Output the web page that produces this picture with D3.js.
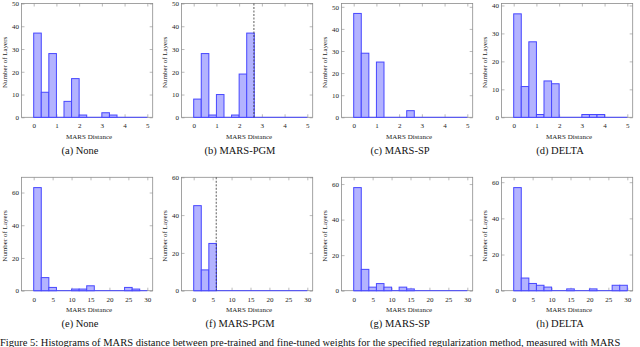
<!DOCTYPE html>
<html>
<head>
<meta charset="utf-8">
<script src="https://cdn.jsdelivr.net/npm/d3@7"></script>
<style>
  body { margin: 0; background: #fff; }
  svg { display: block; font-family: "Liberation Serif", "Times New Roman", Times, "DejaVu Serif", serif; }
</style>
</head>
<body>
<div id="chart"></div>
<script>
// Setting up constant variables
const F_WIDTH = 640;
const F_HEIGHT = 347;

// bin start positions (MARS distance)
const binsTop = [0, 1/3, 2/3, 1, 4/3, 5/3, 2, 7/3, 8/3, 3, 10/3, 11/3, 4, 13/3, 14/3];
const binsBottom = [0, 2, 4, 6, 8, 10, 12, 14, 16, 18, 20, 22, 24, 26, 28];
const binWidthTop = 1/3;
const binWidthBottom = 2;

// counts per bin (number of layers)
const aNone  = [37, 11, 28, 0, 7, 17, 1, 0, 0, 2, 1, 0, 0, 0, 0];
const bPGM   = [8, 28, 1, 10, 0, 1, 19, 37, 0, 0, 0, 0, 0, 0, 0];
const cSP    = [47, 29, 0, 25, 0, 0, 0, 3, 0, 0, 0, 0, 0, 0, 0];
const dDelta = [37, 11, 27, 1, 13, 12, 0, 0, 0, 1, 1, 1, 0, 0, 0];
const eNone  = [63, 8, 2, 0, 0, 1, 1, 3, 0, 0, 0, 0, 2, 1, 0];
const fPGM   = [45, 11, 25, 0, 0, 0, 0, 0, 0, 0, 0, 0, 0, 0, 0];
const gSP    = [58, 12, 2, 4, 2, 0, 2, 1, 0, 0, 0, 0, 0, 0, 0];
const hDelta = [57, 7, 4, 3, 2, 0, 0, 1, 0, 0, 1, 0, 0, 3, 3];

const titles = ["(a) None", "(b) MARS-PGM", "(c) MARS-SP", "(d) DELTA",
                "(e) None", "(f) MARS-PGM", "(g) MARS-SP", "(h) DELTA"];
const yMaxes = [50, 50, 51.5, 40.7, 69.3, 60, 63.8, 62.7];
const yTicksTop = [0, 10, 20, 30, 40, 50];
const yTicksBottom = [0, 20, 40, 60];
const xTicksTop = [0, 1, 2, 3, 4, 5];
const xTicksBottom = [0, 5, 10, 15, 20, 25, 30];
// dashed threshold line (PGM panels only)
const thresholds = [null, 2.65, null, null, null, 5.95, null, null];

const caption = "Figure 5: Histograms of MARS distance between pre-trained and fine-tuned weights for the specified regularization method, measured with MARS";

const counts = [aNone, bPGM, cSP, dDelta, eNone, fPGM, gSP, hDelta];

// frame geometry inside each 160px cell
const CELL_W = 160;
const ROW_TOP = [3.5, 177.3];
const ROW_BOT = [117.3, 290.7];
const X0 = 33.7, X1 = 147.3;        // pixel of x=0 and x=max
const FRAME_L = 21.5, FRAME_R = 152.7;

const BAR_FILL = "#b3b3ff";
const BAR_STROKE = "#4747ff";
const AXIS_COLOR = "#8c8c8c";
const SERIF = "'Liberation Serif', 'Times New Roman', Times, serif";

const svg = d3.select("#chart")
  .append("svg")
    .attr("width", F_WIDTH)
    .attr("height", F_HEIGHT);

counts.forEach((vals, i) => {
  const row = i < 4 ? 0 : 1;
  const col = i % 4;
  const ox = col * CELL_W;
  const top = ROW_TOP[row], bot = ROW_BOT[row];
  const bins = row === 0 ? binsTop : binsBottom;
  const bw = row === 0 ? binWidthTop : binWidthBottom;
  const xMax = row === 0 ? 5 : 30;
  const xTicks = row === 0 ? xTicksTop : xTicksBottom;
  let yTicks = row === 0 ? yTicksTop : yTicksBottom;
  yTicks = yTicks.filter(t => t <= yMaxes[i] + 0.01);

  const unit = (X1 - X0) / xMax;
  const X_SCALE = d3.scaleLinear()
    .domain([-(X0 - FRAME_L) / unit, xMax + (FRAME_R - X1) / unit])
    .range([ox + FRAME_L, ox + FRAME_R]);
  const Y_SCALE = d3.scaleLinear()
    .domain([0, yMaxes[i]])
    .range([bot, top]);

  const g = svg.append("g");

  // frame
  g.append("rect")
    .attr("x", X_SCALE.range()[0])
    .attr("y", top)
    .attr("width", X_SCALE.range()[1] - X_SCALE.range()[0])
    .attr("height", bot - top)
    .attr("fill", "none")
    .attr("stroke", AXIS_COLOR)
    .attr("stroke-width", 0.8);

  // axes with inward ticks, bottom/left labelled, top/right mirrored
  const fmt = d3.format("d");
  const axB = g.append("g")
    .attr("transform", "translate(0," + bot + ")")
    .call(d3.axisBottom(X_SCALE).tickValues(xTicks).tickSize(-3).tickSizeOuter(0).tickPadding(6).tickFormat(fmt));
  const axT = g.append("g")
    .attr("transform", "translate(0," + top + ")")
    .call(d3.axisTop(X_SCALE).tickValues(xTicks).tickSize(-3).tickSizeOuter(0).tickFormat(""));
  const axL = g.append("g")
    .attr("transform", "translate(" + X_SCALE.range()[0] + ",0)")
    .call(d3.axisLeft(Y_SCALE).tickValues(yTicks).tickSize(-3).tickSizeOuter(0).tickPadding(2.5).tickFormat(fmt));
  const axR = g.append("g")
    .attr("transform", "translate(" + X_SCALE.range()[1] + ",0)")
    .call(d3.axisRight(Y_SCALE).tickValues(yTicks).tickSize(-3).tickSizeOuter(0).tickFormat(""));

  [axB, axT, axL, axR].forEach(ax => {
    ax.attr("font-family", SERIF);
    ax.select(".domain").remove();
    ax.selectAll("line").attr("stroke", AXIS_COLOR).attr("stroke-width", 0.6);
    ax.selectAll("text")
      .attr("font-size", 7)
      .attr("fill", "#222");
  });

  // baseline for empty bins
  g.append("line")
    .attr("x1", X_SCALE(0)).attr("x2", X_SCALE(xMax))
    .attr("y1", Y_SCALE(0)).attr("y2", Y_SCALE(0))
    .attr("stroke", BAR_STROKE)
    .attr("stroke-width", 1);

  // bars
  g.selectAll(".bar")
    .data(bins.map((b, k) => ({ x: b, v: vals[k] })).filter(d => d.v > 0))
    .enter()
    .append("rect")
      .attr("class", "bar")
      .attr("x", d => X_SCALE(d.x))
      .attr("width", d => X_SCALE(d.x + bw) - X_SCALE(d.x))
      .attr("y", d => Y_SCALE(d.v))
      .attr("height", d => Y_SCALE(0) - Y_SCALE(d.v))
      .attr("fill", BAR_FILL)
      .attr("stroke", BAR_STROKE)
      .attr("stroke-width", 1);

  // threshold line
  if (thresholds[i] !== null) {
    g.append("line")
      .attr("x1", X_SCALE(thresholds[i])).attr("x2", X_SCALE(thresholds[i]))
      .attr("y1", top).attr("y2", bot)
      .attr("stroke", "#333")
      .attr("stroke-width", 0.8)
      .attr("stroke-dasharray", "2,1.5");
  }

  // axis labels
  g.append("text")
    .attr("x", (X_SCALE.range()[0] + X_SCALE.range()[1]) / 2 + 2)
    .attr("y", bot + 21.5)
    .attr("text-anchor", "middle")
    .attr("font-family", SERIF)
    .attr("font-size", 7)
    .attr("fill", "#222")
    .text("MARS Distance");

  g.append("text")
    .attr("transform", "translate(" + (ox + 7.2) + "," + ((top + bot) / 2 + 2) + ") rotate(-90)")
    .attr("text-anchor", "middle")
    .attr("font-family", SERIF)
    .attr("font-size", 7)
    .attr("fill", "#222")
    .text("Number of Layers");

  // sub caption
  g.append("text")
    .attr("x", ox + 80)
    .attr("y", bot + 36.5)
    .attr("text-anchor", "middle")
    .attr("font-family", SERIF)
    .attr("font-size", 10.5)
    .attr("fill", "#111")
    .text(titles[i]);
});

// figure caption (sits at the bottom edge, as in the page it was cut from)
svg.append("text")
  .attr("x", 0)
  .attr("y", 345.5)
  .attr("font-family", SERIF)
  .attr("font-size", 10.5)
  .attr("fill", "#111")
  .text(caption);
</script>
</body>
</html>
